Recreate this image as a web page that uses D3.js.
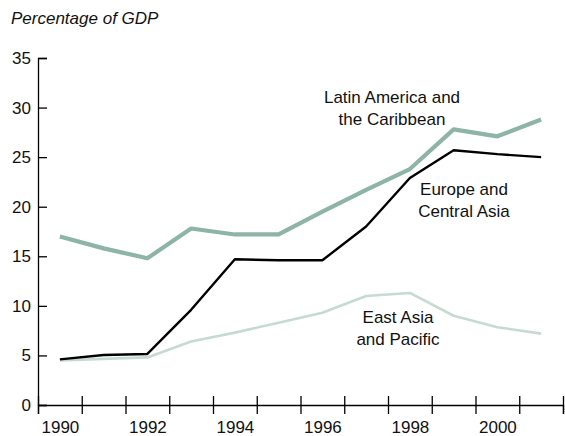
<!DOCTYPE html>
<html>
<head>
<meta charset="utf-8">
<script src="https://cdn.jsdelivr.net/npm/d3@7"></script>
<style>
  html, body { margin: 0; padding: 0; background: #fff; }
  svg { display: block; font-family: "Liberation Sans", Arial, Helvetica, sans-serif; }
</style>
</head>
<body>
<svg id="chart" width="565" height="436"></svg>
<script>
// ---- Data ----
const years = [1990, 1991, 1992, 1993, 1994, 1995, 1996, 1997, 1998, 1999, 2000, 2001];
const yearLabels = [1990, 1992, 1994, 1996, 1998, 2000];
const yTicks = [0, 5, 10, 15, 20, 25, 30, 35];
const latinAmerica = [17.0, 15.8, 14.8, 17.8, 17.2, 17.2, 19.5, 21.7, 23.8, 27.8, 27.1, 28.8];
const europeCentralAsia = [4.6, 5.05, 5.15, 9.6, 14.7, 14.6, 14.6, 18.0, 22.9, 25.7, 25.3, 25.0];
const eastAsiaPacific = [4.5, 4.65, 4.8, 6.4, 7.3, 8.3, 9.3, 11.0, 11.3, 9.0, 7.85, 7.2];
const seriesNames = ["Latin America and the Caribbean", "Europe and Central Asia", "East Asia and Pacific"];
const yTitle = "Percentage of GDP";

// ---- Layout ----
const svg = d3.select("#chart");
const mLeft = 38, mRight = 563, mTop = 58, mBottom = 405;

const x = d3.scaleLinear().domain([years[0] - 0.5, years[years.length - 1] + 0.5]).range([mLeft, mRight]);
const y = d3.scaleLinear().domain([0, 35]).range([mBottom, mTop]);

// Title
svg.append("text")
  .attr("x", 11).attr("y", 24)
  .attr("font-size", 17).attr("font-style", "italic")
  .attr("fill", "#111")
  .text(yTitle);

// Y axis
const yAxis = svg.append("g")
  .attr("transform", `translate(${mLeft},0)`)
  .call(d3.axisLeft(y).tickValues(yTicks).tickSize(-9).tickPadding(7).tickFormat(d3.format("d")));
yAxis.select(".domain").attr("stroke", "#000").attr("stroke-width", 1.3);
yAxis.selectAll(".tick line").attr("stroke", "#000").attr("stroke-width", 1.3);
yAxis.selectAll(".tick text").attr("font-size", 17).attr("fill", "#111")
  .attr("font-family", "'Liberation Sans', Arial, sans-serif");

// X axis: boundary ticks between years
const boundaries = d3.range(years[0] - 0.5, years[years.length - 1] + 1, 1);
const xAxis = svg.append("g")
  .attr("transform", `translate(0,${mBottom})`)
  .call(d3.axisBottom(x).tickValues(boundaries).tickSize(9).tickFormat(""));
xAxis.select(".domain").attr("stroke", "#000").attr("stroke-width", 1.3);
xAxis.selectAll(".tick line").attr("stroke", "#000").attr("stroke-width", 1.3).attr("y1", -9).attr("y2", 9);

// X labels
const xLab = svg.append("g")
  .attr("transform", `translate(0,${mBottom})`)
  .call(d3.axisBottom(x).tickValues(yearLabels).tickSize(0).tickPadding(0).tickFormat(d3.format("d")));
xLab.select(".domain").remove();
xLab.selectAll(".tick text").attr("font-size", 17).attr("fill", "#111")
  .attr("font-family", "'Liberation Sans', Arial, sans-serif")
  .attr("dy", null).attr("y", 28);

// Lines
const line = d3.line().x((d, i) => x(years[i])).y(d => y(d)).curve(d3.curveLinear);

svg.append("path").datum(eastAsiaPacific)
  .attr("fill", "none").attr("stroke", "#c5dbd2").attr("stroke-width", 2.6)
  .attr("stroke-linejoin", "round").attr("d", line);
svg.append("path").datum(europeCentralAsia)
  .attr("fill", "none").attr("stroke", "#000").attr("stroke-width", 2.4)
  .attr("stroke-linejoin", "round").attr("d", line);
svg.append("path").datum(latinAmerica)
  .attr("fill", "none").attr("stroke", "#8db4a4").attr("stroke-width", 4.2)
  .attr("stroke-linejoin", "round").attr("d", line);

// Series labels
const labels = [
  { lines: ["Latin America and", "the Caribbean"], cx: 392, by: 103 },
  { lines: ["Europe and", "Central Asia"], cx: 464, by: 195 },
  { lines: ["East Asia", "and Pacific"], cx: 398, by: 323 }
];
labels.forEach(l => {
  const t = svg.append("text").attr("font-size", 17).attr("fill", "#111").attr("text-anchor", "middle");
  l.lines.forEach((s, i) => {
    t.append("tspan").attr("x", l.cx).attr("y", l.by + i * 21.5).text(s);
  });
});
</script>
</body>
</html>
